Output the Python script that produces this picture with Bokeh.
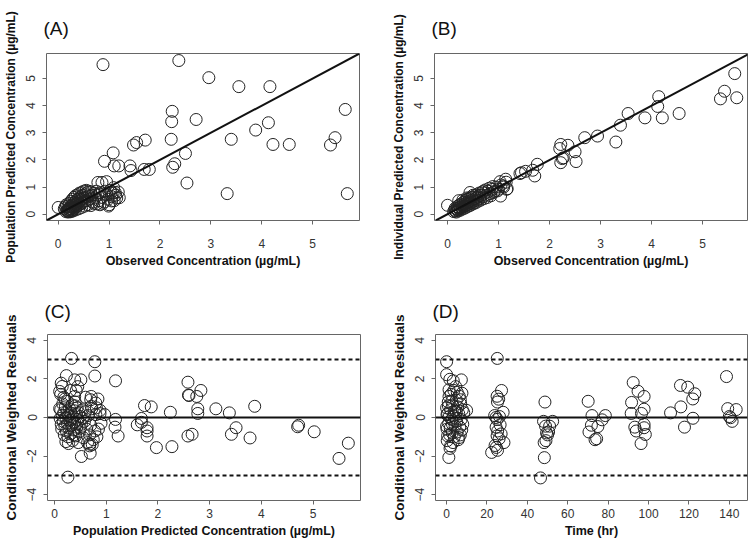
from bokeh.plotting import figure
from bokeh.layouts import column, row
from bokeh.models import Range1d, FixedTicker, Slope, Span
from bokeh.embed import file_html
from bokeh.resources import INLINE

FONT = "Liberation Sans"

# ---------------- Panel A: observed vs population predicted ----------------
obs_a = [0.88, 2.37, 2.96, 3.55, 4.16, 5.64, 2.24, 2.23, 2.71, 4.13, 3.88, 2.22, 3.40, 5.44, 5.35,
         4.22, 4.54, 1.71, 1.54, 1.48, 2.50, 1.08, 0.91, 2.29, 2.25, 1.10, 1.19, 1.41, 1.43, 1.69,
         1.79, 2.53, 3.32, 5.68, 0.00, 0.78, 0.86, 0.95, 1.04, 1.12, 1.09, 1.05, 1.20, 0.99,
         0.15, 0.17, 0.18, 0.20, 0.21, 0.22, 0.23, 0.24, 0.25, 0.26, 0.27, 0.28, 0.29, 0.30, 0.31,
         0.32, 0.33, 0.34, 0.35, 0.36, 0.37, 0.38, 0.39, 0.40, 0.41, 0.42, 0.43, 0.44, 0.45, 0.46,
         0.47, 0.48, 0.50, 0.52, 0.53, 0.55, 0.57, 0.58, 0.60, 0.62, 0.64, 0.66, 0.68, 0.70, 0.72,
         0.75, 0.78, 0.80, 0.83, 0.86, 0.88, 0.92, 0.95, 0.98, 1.02, 1.05, 1.08, 1.10, 1.13, 1.15,
         1.18, 0.12, 0.14, 0.16, 0.19, 0.22, 0.25, 0.28, 0.31, 0.34, 0.38, 0.42, 0.46, 0.50, 0.55,
         0.60, 0.19, 0.24, 0.29, 0.34, 0.40, 0.46, 0.52, 0.58, 0.64, 0.70, 0.76, 0.82, 0.90, 1.00]
pred_a = [5.51, 5.66, 5.03, 4.70, 4.70, 3.86, 3.79, 3.41, 3.49, 3.37, 3.10, 2.76, 2.76, 2.82, 2.55,
          2.57, 2.57, 2.73, 2.64, 2.55, 2.24, 2.26, 1.95, 1.86, 1.73, 1.78, 1.78, 1.78, 1.61, 1.65,
          1.65, 1.15, 0.76, 0.76, 0.25, 1.17, 1.17, 1.20, 0.80, 0.80, 0.98, 0.49, 0.61, 0.30,
          0.10, 0.15, 0.12, 0.18, 0.10, 0.22, 0.15, 0.28, 0.20, 0.12, 0.33, 0.25, 0.18, 0.40, 0.30,
          0.22, 0.45, 0.35, 0.27, 0.50, 0.40, 0.30, 0.55, 0.45, 0.35, 0.60, 0.50, 0.38, 0.65, 0.55,
          0.42, 0.70, 0.60, 0.48, 0.75, 0.62, 0.50, 0.80, 0.68, 0.55, 0.82, 0.70, 0.45, 0.78, 0.60,
          0.85, 0.70, 0.50, 0.80, 0.62, 0.40, 0.85, 0.72, 0.55, 0.88, 0.65, 0.78, 0.50, 0.70, 0.60,
          0.82, 0.20, 0.28, 0.35, 0.30, 0.40, 0.48, 0.55, 0.62, 0.68, 0.72, 0.78, 0.80, 0.85, 0.88,
          0.85, 0.08, 0.09, 0.12, 0.16, 0.20, 0.25, 0.30, 0.35, 0.32, 0.40, 0.38, 0.35, 0.45, 0.35]

# ---------------- Panel B: observed vs individual predicted ----------------
obs_b = [5.63, 5.43, 5.35, 5.67, 4.14, 4.12, 4.21, 4.54, 3.87, 3.54, 3.39, 3.30, 2.94, 2.69, 2.36,
         2.22, 2.20, 2.50, 2.27, 2.22, 2.52, 2.25, 1.76, 1.71, 1.67, 1.53, 1.42, 1.45, 0.00, 1.14,
         1.03, 1.17, 1.04, 0.89, 1.09, 1.16, 0.71, 0.44,
         0.12, 0.14, 0.16, 0.18, 0.20, 0.22, 0.24, 0.26, 0.28, 0.30, 0.32, 0.34, 0.36, 0.38, 0.40,
         0.42, 0.44, 0.46, 0.48, 0.50, 0.52, 0.55, 0.58, 0.60, 0.63, 0.66, 0.70, 0.73, 0.76, 0.80,
         0.84, 0.88, 0.92, 0.96, 1.00, 1.05, 1.10, 1.15, 0.15, 0.19, 0.23, 0.27, 0.31, 0.35, 0.39,
         0.43, 0.47, 0.53, 0.57, 0.62, 0.68, 0.17, 0.21, 0.25, 0.29, 0.33, 0.37, 0.41, 0.45, 0.50,
         0.55, 0.60, 0.65, 0.72, 0.78, 0.85, 0.22, 0.30, 0.38, 0.50, 0.62, 0.75, 0.82, 0.90, 0.98]
ipred_b = [5.18, 4.53, 4.25, 4.29, 4.33, 3.97, 3.55, 3.71, 3.55, 3.71, 3.28, 2.66, 2.88, 2.82, 2.54,
           2.57, 2.42, 2.30, 2.08, 1.90, 1.94, 2.05, 1.84, 1.41, 1.62, 1.58, 1.50, 1.53, 0.33, 1.29,
           1.20, 0.94, 0.67, 1.02, 1.04, 0.92, 0.86, 0.80,
           0.10, 0.15, 0.12, 0.20, 0.16, 0.24, 0.20, 0.28, 0.24, 0.33, 0.28, 0.38, 0.32, 0.42, 0.36,
           0.46, 0.40, 0.50, 0.44, 0.54, 0.48, 0.58, 0.52, 0.64, 0.58, 0.70, 0.64, 0.78, 0.70, 0.85,
           0.76, 0.92, 0.84, 1.00, 0.92, 1.08, 1.00, 1.18, 0.22, 0.28, 0.34, 0.38, 0.44, 0.50, 0.55,
           0.60, 0.62, 0.68, 0.72, 0.78, 0.82, 0.08, 0.12, 0.15, 0.19, 0.22, 0.26, 0.30, 0.33, 0.38,
           0.42, 0.48, 0.52, 0.58, 0.62, 0.68, 0.50, 0.52, 0.60, 0.70, 0.70, 0.90, 0.96, 0.80, 0.86]

# ---------------- Panel C: population predicted vs CWRES ----------------
pred_c = [0.33, 0.78, 0.78, 1.18, 2.58, 2.83, 2.59, 2.60, 2.75, 2.77, 2.77, 3.12, 3.38, 3.87, 1.74,
          1.87, 2.24, 1.68, 1.60, 1.68, 1.79, 1.79, 1.79, 1.97, 2.27, 2.58, 2.66, 3.42, 3.51, 3.78,
          4.70, 4.72, 5.02, 5.50, 5.68, 1.18, 1.17, 1.23, 0.97, 0.26, 0.52, 0.69, 0.68, 0.68,
          0.23, 0.39, 0.51, 0.13, 0.15, 0.10, 0.31, 0.42, 0.39, 0.71, 0.70, 0.84, 0.25, 0.40, 0.10,
          0.71, 0.81, 0.88, 0.12, 0.18, 0.20, 0.45, 0.60, 0.80,
          0.12, 0.15, 0.17, 0.18, 0.20, 0.21, 0.22, 0.23, 0.24, 0.25, 0.26, 0.27, 0.28, 0.29, 0.30,
          0.31, 0.32, 0.33, 0.34, 0.35, 0.36, 0.37, 0.38, 0.39, 0.40, 0.41, 0.42, 0.43, 0.44, 0.45,
          0.46, 0.47, 0.48, 0.50, 0.52, 0.54, 0.56, 0.58, 0.60, 0.62, 0.65, 0.68, 0.70, 0.72, 0.75,
          0.78, 0.80, 0.82, 0.85, 0.88, 0.90, 0.14, 0.16, 0.19, 0.22, 0.27, 0.33, 0.38, 0.44, 0.50,
          0.55, 0.64, 0.73, 0.11, 0.13]
cwres_c = [3.06, 2.89, 2.15, 1.90, 1.83, 1.40, 1.16, 1.14, 1.09, 0.45, 0.21, 0.45, 0.24, 0.58, 0.62,
           0.55, 0.27, -0.05, -0.38, -0.25, -0.53, -0.96, -0.70, -1.56, -1.51, -0.96, -0.87, -0.87,
           -0.53, -1.06, -0.48, -0.40, -0.74, -2.12, -1.33, -0.10, -0.50, -0.96, 0.15, -3.09, -2.02,
           -1.85, -1.47, -1.38,
           2.17, 1.95, 1.95, 1.78, 1.61, 1.35, 1.40, 1.40, 1.09, 1.09, 0.92, 0.96, 0.84, 0.60, 0.46,
           0.58, 0.50, 0.37, 1.20, 1.05, 0.95, 1.60, 1.05, 0.75,
           0.40, 0.10, -0.20, 0.25, -0.45, 0.55, 0.00, -0.70, 0.30, -0.30, -1.00, 0.10, -0.55, 0.45,
           -0.15, -0.85, 0.20, -0.40, 0.65, -1.20, 0.00, -0.65, 0.35, -0.25, 0.80, -0.95, 0.15, -0.50,
           0.50, -0.10, -1.30, 0.25, -0.75, 0.05, -0.35, 0.40, -1.05, -0.20, 0.30, -0.60, 0.10, -0.90,
           -0.40, 0.45, -1.15, -0.70, 0.15, -1.00, -0.60, 0.20, -0.30, -0.60, 0.70, -0.90, -1.25,
           -1.35, -0.10, -0.90, -0.30, -0.55, -0.05, -1.30, -1.40, -0.05, -0.35]

# ---------------- Panel D: time vs CWRES ----------------
time_d = [25.1, 22.3, 27.2, 25.0, 25.2, 25.8, 28.0, 24.5, 25.0, 26.5, 24.5, 25.3, 25.0, 26.0, 28.4,
          24.6, 25.2, 23.8, 26.2, 27.0, 24.0,
          48.7, 48.0, 49.0, 49.5, 50.0, 48.3, 49.2, 52.5, 51.0, 48.4, 46.5, 50.5,
          70.1, 72.0, 71.7, 70.5, 74.9, 73.5, 74.3, 77.0, 78.6,
          91.6, 92.4, 94.8, 97.8, 91.4, 96.5, 97.8, 93.2, 93.9, 97.8, 97.8, 98.4, 96.3,
          110.9, 115.8, 119.4, 122.9, 121.9, 116.0, 117.8, 122.0,
          138.6, 139.2, 143.4, 140.6, 141.4, 140.0,
          0.0, 0.0, 1.6, 3.3, 7.3, 1.2, 4.5, 1.2, 7.6, 6.8, 9.9, 1.1, 2.0, 6.1,
          0.0, 0.5, 1.0, 0.2, 0.8, 1.5, 0.3, 2.0, 2.5, 1.8, 3.0, 2.8, 3.5, 3.2, 4.0, 4.2, 4.8, 5.0,
          5.5, 5.2, 6.0, 6.5, 7.0, 7.2, 7.8, 8.0, 6.3, 2.2, 0.5, 1.3, 2.6, 3.8, 5.8, 7.5, 0.9, 4.5,
          8.5, 6.8, 3.6, 1.7, 0.0, 0.2, 5.3, 2.9, 4.8]
cwres_d = [3.06, -1.81, 1.40, 1.10, 0.80, 0.95, 0.27, 0.00, -0.10, -0.38, -0.50, -0.70, -0.95,
           -1.10, -1.30, -1.55, -1.70, 0.10, 0.05, -0.85, -1.45,
           0.80, -0.20, -0.45, -0.80, -0.90, -1.30, -1.20, -0.20, -0.45, -2.08, -3.13, -0.75,
           0.84, 0.10, -0.40, -0.75, -0.47, -1.15, -1.10, -0.12, 0.10,
           0.78, 1.81, 1.36, 1.09, 0.21, 0.21, 0.43, -0.50, -0.70, -0.36, -0.53, -0.88, -1.35,
           0.24, 1.66, 1.57, 1.23, 0.96, 0.55, -0.50, -0.04,
           2.12, 0.46, 0.41, -0.01, -0.20, 0.05,
           2.89, 2.22, 1.98, 1.90, 1.95, 1.44, 1.60, 1.09, 1.26, 0.92, 0.37, -2.07, -1.47, -1.04,
           0.50, 0.20, -0.30, -0.60, 0.80, -0.90, -1.20, 0.40, -0.10, -0.55, 0.65, -0.80, 0.10,
           -1.30, 0.35, -0.45, 0.90, -0.20, 0.55, -0.75, 0.20, -0.50, 0.70, -0.10, 0.40, -0.35,
           1.10, 1.20, -0.95, 0.05, 0.85, -1.00, -1.15, -0.65, 0.60, -0.05, 0.25, -0.90, 1.40,
           -1.60, -0.45, 0.15, 1.30, -0.35, 0.30]

conc_ticks = [0, 1, 2, 3, 4, 5]
cwres_ticks = [-4, -2, 0, 2, 4]
time_ticks = [0, 20, 40, 60, 80, 100, 120, 140]


def make_fig(title, w, h, xr, yr, xticks, yticks, xlabel, ylabel, bl, br, bt, bb,
             xlab_so, xtitle_so, title_so, ytitle_size):
    p = figure(width=w, height=h, x_range=Range1d(*xr), y_range=Range1d(*yr),
               output_backend="svg", toolbar_location=None,
               min_border_left=bl, min_border_right=br, min_border_top=bt, min_border_bottom=bb)
    p.title.text = title
    p.title.text_font = FONT
    p.title.text_font_size = "19px"
    p.title.text_font_style = "normal"
    p.title.text_color = "#111111"
    p.title.align = "left"
    p.title.offset = -3
    p.title.standoff = title_so
    p.grid.visible = False
    p.background_fill_color = "white"
    p.border_fill_color = "white"
    p.outline_line_color = "#666666"
    p.outline_line_width = 1
    p.xaxis.ticker = FixedTicker(ticks=xticks)
    p.yaxis.ticker = FixedTicker(ticks=yticks)
    p.xaxis.axis_label = xlabel
    p.yaxis.axis_label = ylabel
    for ax in p.xaxis + p.yaxis:
        ax.axis_line_color = None
        ax.major_tick_line_color = "#666666"
        ax.major_tick_out = 4
        ax.major_tick_in = 0
        ax.minor_tick_out = 0
        ax.minor_tick_in = 0
        ax.major_label_text_font = FONT
        ax.major_label_text_font_size = "12px"
        ax.major_label_text_color = "#333333"
        ax.axis_label_text_font = FONT
        ax.axis_label_text_font_style = "bold"
        ax.axis_label_text_color = "#111111"
        ax.major_label_text_line_height = 1.0
        ax.axis_label_text_line_height = 1.0
    p.xaxis.axis_label_text_font_size = "12.5px"
    p.yaxis.axis_label_text_font_size = ytitle_size
    p.xaxis.major_label_standoff = xlab_so
    p.xaxis.axis_label_standoff = xtitle_so
    p.yaxis.major_label_standoff = 7
    p.yaxis.axis_label_standoff = 6
    p.yaxis.major_label_orientation = "vertical"
    return p


def add_points(p, x, y):
    p.scatter(x, y, marker="circle", size=12, fill_color=None,
              line_color="#222222", line_width=1)


TOP_H, BOT_H = 270, 270
LW, RW = 375, 375

pa = make_fig("(A)", LW, TOP_H, (-0.23, 5.92), (-0.23, 5.92), conc_ticks, conc_ticks,
              "Observed Concentration (µg/mL)", "Population Predicted Concentration (µg/mL)",
              46, 16, 53, 49, 14, 3, 29, "12px")
add_points(pa, obs_a, pred_a)
pa.add_layout(Slope(gradient=1, y_intercept=0, line_color="#111111", line_width=2))

pb = make_fig("(B)", RW, TOP_H, (-0.255, 5.88), (-0.23, 5.92), conc_ticks, conc_ticks,
              "Observed Concentration (µg/mL)", "Individual Predicted Concentration (µg/mL)",
              59, 3, 53, 49, 14, 3, 29, "12px")
add_points(pb, obs_b, ipred_b)
pb.add_layout(Slope(gradient=1, y_intercept=0, line_color="#111111", line_width=2))

pc = make_fig("(C)", LW, BOT_H, (-0.135, 5.915), (-4.3, 4.3), conc_ticks, cwres_ticks,
              "Population Predicted Concentration (µg/mL)", "Conditional Weighted Residuals",
              46, 15, 64, 38, 4, 3, 26, "13.5px")
add_points(pc, pred_c, cwres_c)

pd_ = make_fig("(D)", RW, BOT_H, (-5.5, 149.0), (-4.3, 4.3), time_ticks, cwres_ticks,
               "Time (hr)", "Conditional Weighted Residuals",
               60, 3, 64, 38, 4, 3, 26, "13.5px")
add_points(pd_, time_d, cwres_d)

for p in (pc, pd_):
    p.add_layout(Span(location=0, dimension="width", line_color="#111111", line_width=2))
    for lvl in (3, -3):
        p.add_layout(Span(location=lvl, dimension="width", line_color="#111111",
                          line_width=2, line_dash="4 3"))

layout = column(row(pa, pb), row(pc, pd_))
open("out.html", "w").write(file_html(layout, INLINE))
